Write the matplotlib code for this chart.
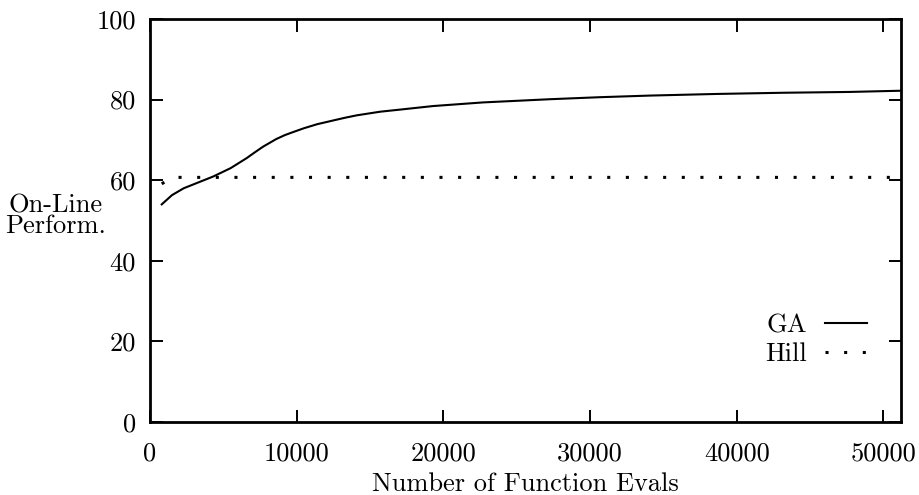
import numpy as np
import matplotlib
matplotlib.use("Agg")
import matplotlib.pyplot as plt

# on-line performance vs. evaluations
ga_evals = [800, 1500, 2300, 3400, 4300, 5500, 6600, 7100, 7700, 8600,
            9200, 9800, 10500, 11400, 12700, 13300, 14100, 15700, 17000,
            19300, 22700, 27300, 30700, 34100, 38600, 43200, 47700, 50000,
            51200]
ga_perf = [54.0, 56.3, 58.0, 59.6, 60.9, 63.0, 65.5, 66.8, 68.3, 70.2,
           71.2, 72.0, 72.9, 73.9, 75.0, 75.5, 76.1, 77.0, 77.5,
           78.4, 79.3, 80.1, 80.6, 81.0, 81.4, 81.7, 81.9, 82.1,
           82.2]

hill_evals = [800, 1500, 51200]
hill_perf = [59.1, 60.7, 60.7]

xticks = [0, 10000, 20000, 30000, 40000, 50000]
yticks = [0, 20, 40, 60, 80, 100]

plt.rcParams['font.family'] = ['cmr10', 'DejaVu Serif']
plt.rcParams['font.size'] = 19
plt.rcParams['axes.formatter.use_mathtext'] = True

fig = plt.figure(figsize=(9.2, 4.95), dpi=100)
ax = fig.add_axes([150/920, 73/495, 751/920, 403/495])

ax.plot(ga_evals, ga_perf, color='black', lw=1.5, label='GA',
        solid_joinstyle='round')
ax.plot(hill_evals, hill_perf, color='black', lw=2.2,
        linestyle=(0, (1.0, 5.1)), dash_capstyle='butt', label='Hill')

ax.set_xlim(0, 51200)
ax.set_ylim(0, 100)
ax.set_xticks(xticks)
ax.set_yticks(yticks)
ax.set_xticklabels([str(t) for t in xticks])
ax.set_yticklabels([str(t) for t in yticks])

ax.tick_params(direction='in', length=9, width=1.4, top=True, right=True)
ax.tick_params(axis='x', pad=14)
ax.tick_params(axis='y', pad=10)
for s in ax.spines.values():
    s.set_linewidth(2.0)

ax.set_xlabel('Number of Function Evals', labelpad=5)
fig.text(56/920, 1 - 216/495, 'On-Line\nPerform.', ha='center', va='center',
         linespacing=0.8)

leg = ax.legend(loc='lower right', bbox_to_anchor=(0.972, 0.105),
                frameon=False, markerfirst=False, handlelength=1.6,
                handletextpad=0.65, labelspacing=0.2, borderpad=0)

fig.savefig('out.png', dpi=100)
